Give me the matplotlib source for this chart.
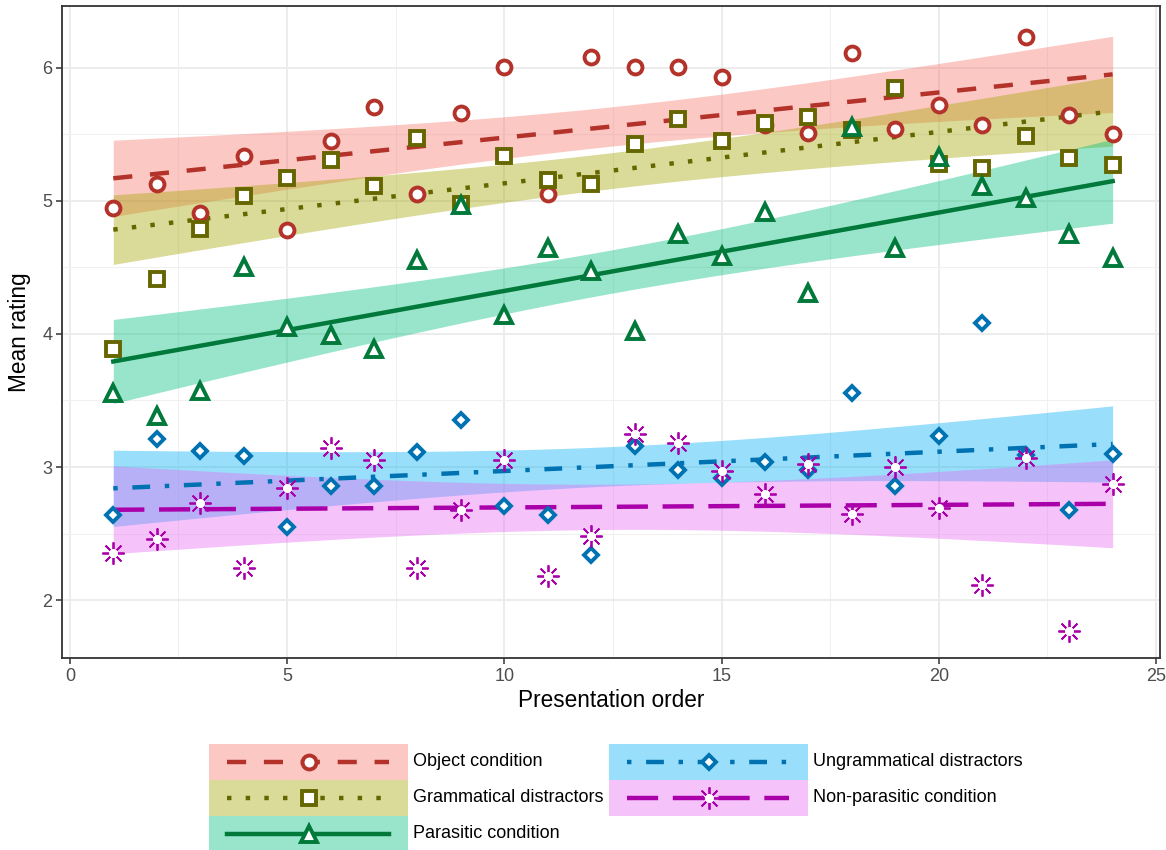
import numpy as np
import matplotlib
matplotlib.use("Agg")
import matplotlib.pyplot as plt
from matplotlib.patches import Rectangle
from matplotlib.ticker import MultipleLocator

plt.rcParams['font.family'] = ['Liberation Sans', 'DejaVu Sans']

order = np.arange(1, 25)

labels = ["Object condition", "Grammatical distractors", "Parasitic condition",
          "Ungrammatical distractors", "Non-parasitic condition"]

obj = [4.95, 5.13, 4.91, 5.34, 4.78, 5.45, 5.71, 5.05, 5.66, 6.01, 5.05, 6.08,
       6.01, 6.01, 5.93, 5.57, 5.51, 6.11, 5.54, 5.72, 5.57, 6.23, 5.65, 5.50]
gram = [3.89, 4.41, 4.79, 5.04, 5.17, 5.31, 5.11, 5.47, 4.98, 5.34, 5.16, 5.13,
        5.43, 5.62, 5.45, 5.59, 5.63, 5.53, 5.85, 5.28, 5.25, 5.49, 5.32, 5.27]
para = [3.56, 3.38, 3.57, 4.50, 4.05, 3.99, 3.89, 4.56, 4.97, 4.14, 4.65, 4.47,
        4.02, 4.75, 4.59, 4.92, 4.31, 5.56, 4.65, 5.33, 5.11, 5.02, 4.75, 4.57]
ungram = [2.64, 3.21, 3.12, 3.08, 2.55, 2.86, 2.86, 3.11, 3.35, 2.71, 2.64, 2.34,
          3.16, 2.98, 2.92, 3.04, 2.98, 3.56, 2.86, 3.23, 4.08, 3.09, 2.68, 3.10]
nonpara = [2.35, 2.46, 2.73, 2.24, 2.84, 3.14, 3.05, 2.24, 2.68, 3.05, 2.18, 2.48,
           3.25, 3.18, 2.97, 2.80, 3.02, 2.65, 3.00, 2.69, 2.11, 3.07, 1.77, 2.87]

series = [obj, gram, para, ungram, nonpara]

line_cols = ["#B3322A", "#666600", "#00793A", "#0072B2", "#AA00AA"]
band_cols = ["#F8766D", "#A3A500", "#00BF7D", "#00B0F6", "#E76BF3"]
markers = ["o", "s", "^", "D", (8, 2, 0)]
msizes = [10, 10, 11, 7.5, 16]
dash_styles = [(0, (4.3, 4.0)), (0, (1.0, 3.2)), "-",
               (0, (1.0, 3.3, 4.0, 3.3)), (0, (7.0, 3.3))]

LW = 3.2
T_CRIT = 2.073873  # t(0.975, df=22)


def star(axis, x, y, col):
    axis.plot(x, y, ls="none", marker=markers[4], ms=msizes[4], mew=1.3,
              color=col, zorder=4)
    axis.plot(x, y, ls="none", marker="o", ms=6.5, mew=0, color="white", zorder=4)


fig = plt.figure(figsize=(11.66, 8.5), dpi=100)
ax = fig.add_axes([62 / 1166, 1 - 658 / 850, 1098 / 1166, 652 / 850])

xs = np.linspace(1, 24, 100)
for y, lc, bc, ls in zip(series, line_cols, band_cols, dash_styles):
    y = np.asarray(y)
    n = len(y)
    b, a = np.polyfit(order, y, 1)
    fit = a + b * xs
    resid = y - (a + b * order)
    s = np.sqrt(np.sum(resid ** 2) / (n - 2))
    sxx = np.sum((order - order.mean()) ** 2)
    se = s * np.sqrt(1 / n + (xs - order.mean()) ** 2 / sxx)
    ax.fill_between(xs, fit - T_CRIT * se, fit + T_CRIT * se, color=bc,
                    alpha=0.4, lw=0, zorder=2)
    ax.plot(xs, fit, color=lc, lw=LW, ls=ls, dash_capstyle="butt", zorder=3)

for i, (y, lc, mk, ms) in enumerate(zip(series, line_cols, markers, msizes)):
    if i == 4:
        star(ax, order, y, lc)
    else:
        ax.plot(order, y, ls="none", marker=mk, ms=ms, mew=2.8, mec=lc,
                mfc="white", zorder=4)

ax.set_xlim(-0.18, 25.09)
ax.set_ylim(1.564, 6.466)
ax.xaxis.set_major_locator(MultipleLocator(5))
ax.xaxis.set_minor_locator(MultipleLocator(2.5))
ax.yaxis.set_major_locator(MultipleLocator(1))
ax.yaxis.set_minor_locator(MultipleLocator(0.5))
ax.grid(which="major", color="#EBEBEB", lw=1.3, zorder=0)
ax.grid(which="minor", color="#F0F0F0", lw=0.8, zorder=0)
ax.set_axisbelow(True)
ax.tick_params(which="minor", length=0)
ax.tick_params(which="major", length=4, width=1.1, color="#333333",
               labelcolor="#4D4D4D", labelsize=13, pad=3)
for sp in ax.spines.values():
    sp.set_color("#333333")
    sp.set_linewidth(1.3)
ax.set_xlabel("Presentation order", fontsize=16.3, labelpad=3)
ax.set_ylabel("Mean rating", fontsize=16.3, labelpad=8)

# legend drawn in pixel space below the panel
lg = fig.add_axes([0, 0, 1, 1])
lg.set_xlim(0, 1166)
lg.set_ylim(850, 0)
lg.axis("off")
key_pos = [(209, 744), (209, 780), (209, 816), (609, 744), (609, 780)]
kw, kh = 199, 36
for i, (kx, ky) in enumerate(key_pos):
    lg.add_patch(Rectangle((kx, ky), kw, kh, facecolor=band_cols[i], alpha=0.4, lw=0))
    cy = ky + kh / 2
    lg.plot([kx + 18, kx + 180], [cy, cy], color=line_cols[i], lw=LW,
            ls=dash_styles[i], dash_capstyle="butt")
    cx = kx + 100
    if i == 4:
        star(lg, [cx], [cy], line_cols[i])
    else:
        lg.plot([cx], [cy], marker=markers[i], ms=msizes[i], mew=2.8,
                mec=line_cols[i], mfc="white")
    lg.text(kx + kw + 5, cy, labels[i], fontsize=13, va="center", ha="left")

fig.savefig("out.png", dpi=100)
